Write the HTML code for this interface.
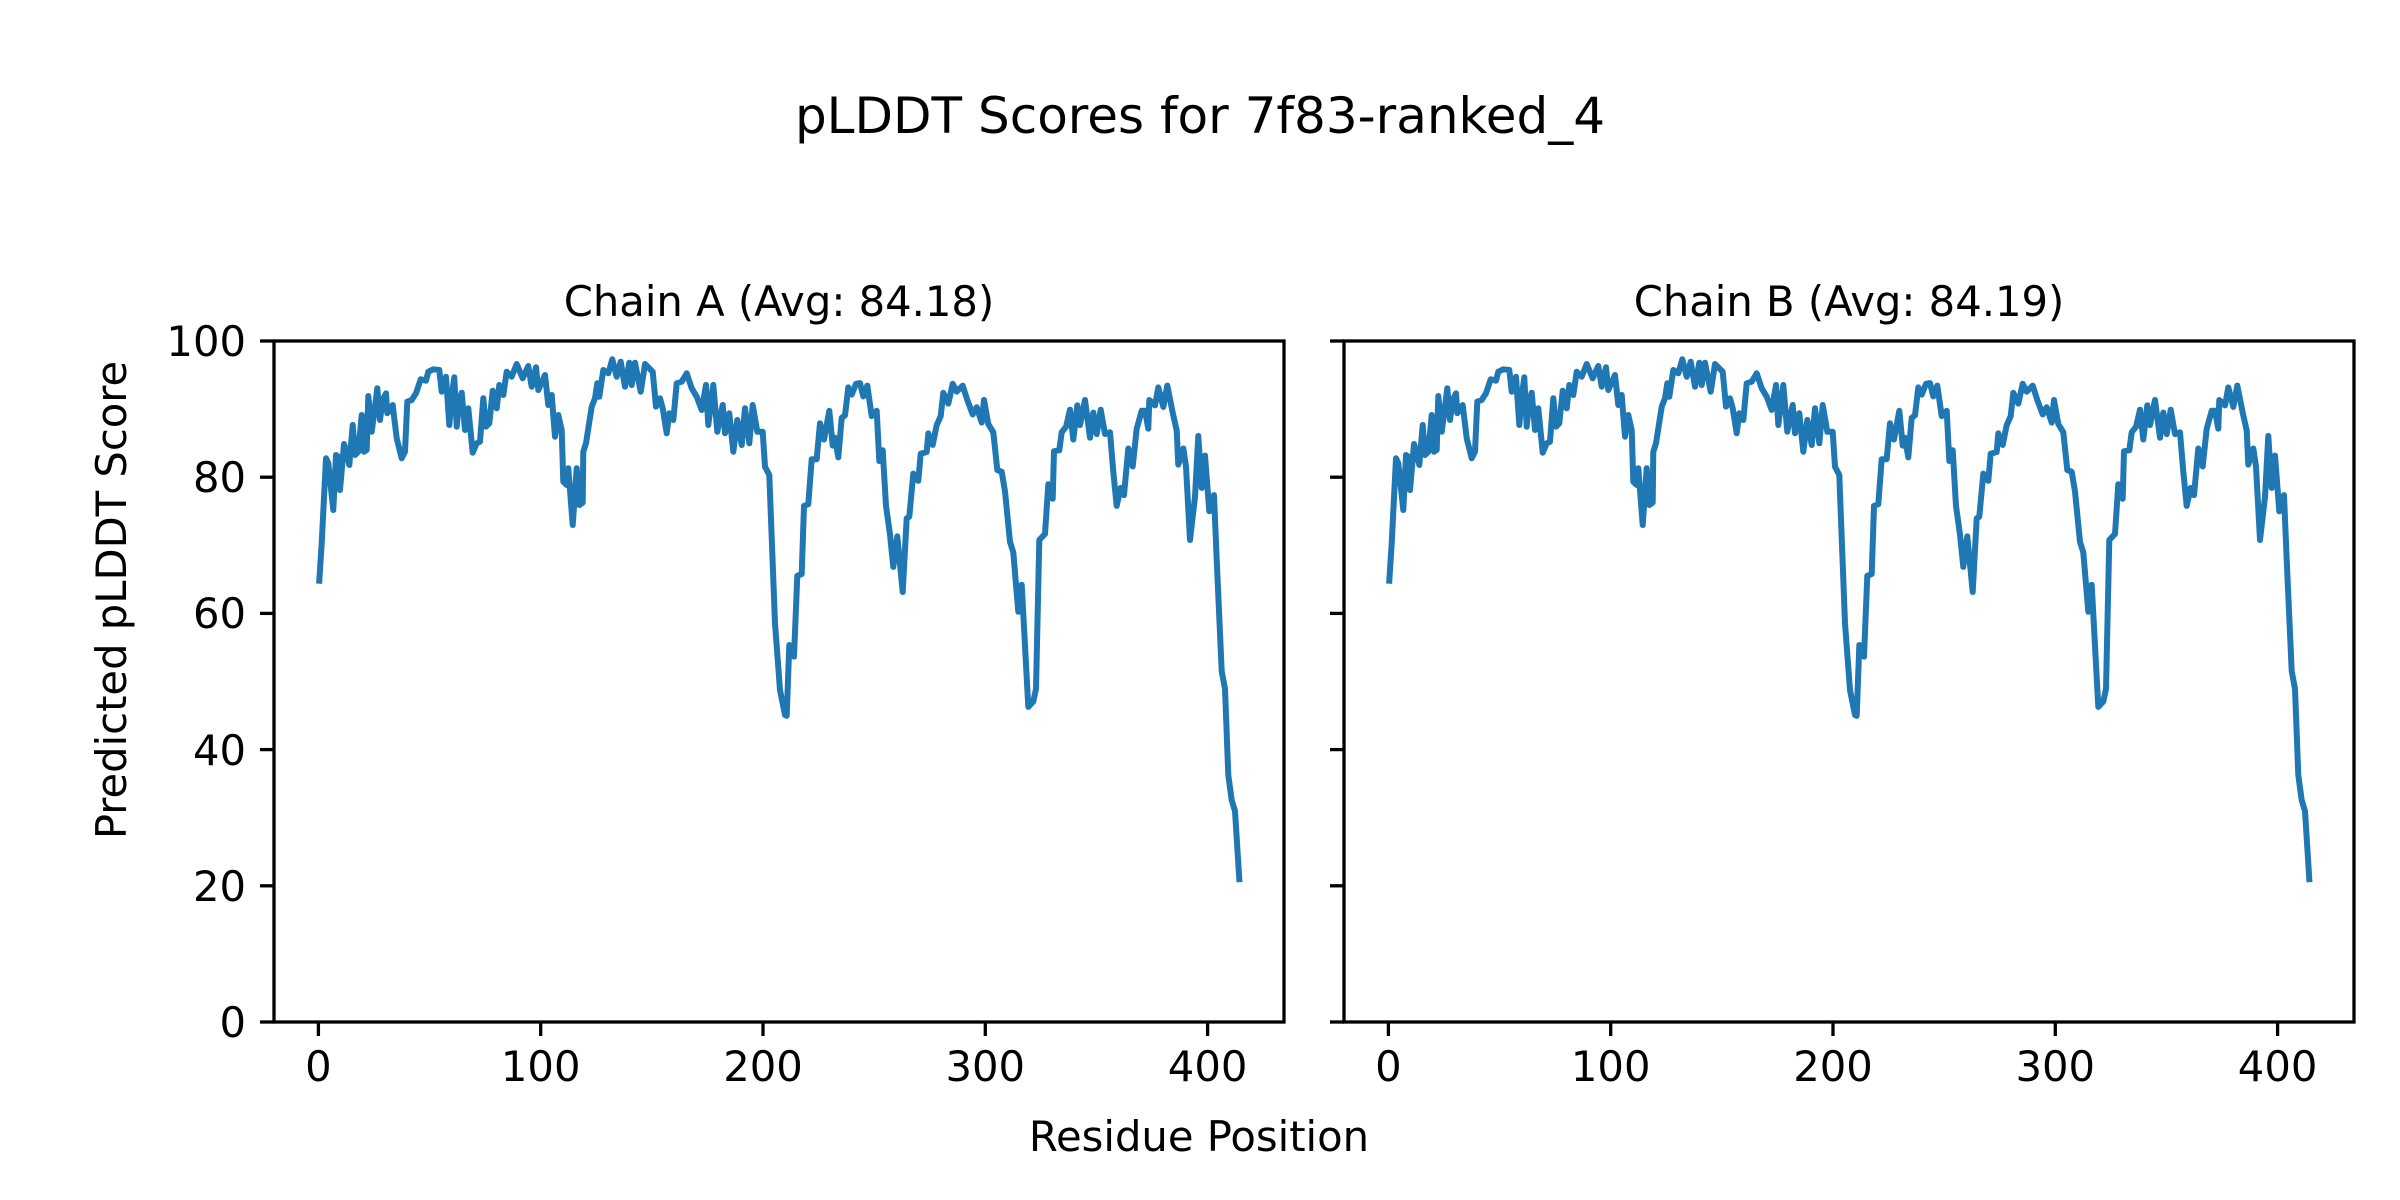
<!DOCTYPE html>
<html><head><style>body{margin:0;background:#fff}svg{display:block}</style></head><body>
<svg width="2400" height="1200" xmlns="http://www.w3.org/2000/svg" font-family="DejaVu Sans, Liberation Sans, sans-serif">
<rect width="2400" height="1200" fill="#fff"/>
<text x="1200" y="133" font-size="50" text-anchor="middle">pLDDT Scores for 7f83-ranked_4</text>
<text x="779" y="316" font-size="41.7" text-anchor="middle">Chain A (Avg: 84.18)</text>
<text x="1849" y="316" font-size="41.7" text-anchor="middle">Chain B (Avg: 84.19)</text>
<text x="1199" y="1151" font-size="41.7" text-anchor="middle">Residue Position</text>
<text transform="translate(126,600) rotate(-90)" font-size="41.7" text-anchor="middle">Predicted pLDDT Score</text>
<defs>
<polyline id="ln" fill="none" stroke="#1f77b4" stroke-width="6" stroke-linejoin="round" stroke-linecap="square" points="319.3,580.7 321.7,543.3 326,458.3 328.3,463.3 333.3,510 336,455 338.3,456.7 340,490 344,444 346.7,453.3 349.3,465 352.7,425 355,455 358.3,451.7 361.7,415 364,451.7 366.7,450 368.3,396 371.7,431.7 375,406.7 377.3,388.3 380,420 382.7,400 386,393.3 387.3,413.3 392.7,405 396.7,438.3 401.7,458.3 405,451.7 407.3,401.7 411.7,400 416,393.3 420.7,379.3 426,380.7 428.3,371.7 433.3,369.3 439.3,370 441.7,391.7 446,376.7 449.3,425 451.7,396.7 454.3,377.3 456.7,426.7 459.3,400 461.7,392.7 465,430 468.3,408.3 472.7,452.7 476.7,443.3 480,441.7 483.3,398.3 486,426.7 489.3,423.3 492.7,390.7 496.7,408.3 499.3,385 503.3,395 506.7,371.7 511.7,376.7 516.7,364 522.7,378.3 528.3,366 531.7,386.7 536,367.3 538.3,390 545,375 548.3,405 551.7,395 555,436.7 558.3,415 561.7,430 563.3,481.7 566.7,485 568.3,468.3 572.7,525 576.7,468.3 579.3,505 582.7,502.7 583.3,451.7 586,443.3 591.7,406.7 595,398.3 597.3,383.3 599.3,396.7 603.3,370 608.3,373.3 612.3,359.3 616.7,376.7 620.7,361.7 625,386.7 629.3,362.7 631.7,385 635,362.7 640.7,391.7 645,364 652.7,371.7 656,406.7 660,398.3 662.7,408.3 666.7,433.3 669.3,413.3 673.3,420 676.7,383.3 681.7,381.7 686.7,373.3 691.7,388.3 696.7,396.7 701.7,410 706,385 708.3,425 713.3,385 717.3,431.7 722.7,405 725,433.3 729.3,413.3 733.3,451.7 737.3,420 741.7,445 745,408.3 749.3,443.3 752.7,405 757.3,431.7 762.7,431.7 765,466.7 769.3,475 775,623.3 780,690 785,715 786.7,715.9 789.3,645 791.7,645.9 794,656.6 797.3,575.9 801.7,574 804,505.9 808.3,504.1 811.7,459.2 816.7,459.2 820,423.3 824,439.5 829.3,410.8 832.7,445.6 835,437.7 838.3,457.4 841.7,417.9 845,415.4 848.3,387.4 851.7,394.6 856,383.8 860,383.1 863.3,396.4 867.3,385.6 871.7,416.1 876.7,410.8 879.3,461 882.7,450.2 886,505.9 890,534.6 893.3,566.9 897.3,536.4 902.7,592 906.7,518.4 909.3,516.6 913.3,473.6 918.3,480.8 920.7,453.8 926.7,452 928.3,433.4 932.7,444.9 936.7,425.1 940.7,416.1 943.3,392.8 948.3,403.6 952.7,383.8 956.7,391.7 962.7,385.6 967.3,400 972.7,414.4 976.7,407.2 981.7,422.6 984,400 988.3,424 993.3,432.3 997.3,470 1001.7,471.8 1005,491.5 1010,541.8 1013.3,552.5 1018.3,611.8 1021.7,584.8 1028.3,706.9 1033.3,701.5 1036,688.9 1039.3,540 1045,533.9 1048.3,484.3 1052.7,498.7 1054,451.3 1059.3,450.2 1061.7,432.3 1066,426.9 1070,409.7 1073.3,439.5 1077.3,405.4 1080,425.1 1085,400 1090,437.7 1093.3,412.6 1096.7,434.1 1100.7,409.7 1105,434.1 1110,432.3 1113.3,471.8 1116.7,505.9 1120.7,487.9 1124,495.1 1128.3,448.5 1132.7,466.4 1136.7,428.7 1141.7,410.8 1145,410.8 1148.3,428.7 1149.3,400 1155,405.4 1158.3,387.4 1163.3,406.9 1167.3,385.6 1172.7,412.6 1176.7,430.5 1178.3,464.6 1183.3,448.5 1186,466.4 1190,540 1195,496.9 1198.3,435.9 1201.7,487.9 1205,455.6 1209.3,511.3 1214,495.1 1216.7,559.7 1221.7,671 1225,688.9 1228.3,775.1 1231.7,800.2 1235,811 1239.3,879.2"/>
<g id="xt" stroke="#000" stroke-width="3.3">
<line x1="318.4" y1="1022" x2="318.4" y2="1036"/><line x1="540.7" y1="1022" x2="540.7" y2="1036"/><line x1="763" y1="1022" x2="763" y2="1036"/><line x1="985.3" y1="1022" x2="985.3" y2="1036"/><line x1="1207.6" y1="1022" x2="1207.6" y2="1036"/>
<line x1="274" y1="1022" x2="260" y2="1022"/><line x1="274" y1="885.8" x2="260" y2="885.8"/><line x1="274" y1="749.6" x2="260" y2="749.6"/><line x1="274" y1="613.4" x2="260" y2="613.4"/><line x1="274" y1="477.2" x2="260" y2="477.2"/><line x1="274" y1="341" x2="260" y2="341"/>
</g>
<g id="xl" font-size="41.7" text-anchor="middle">
<text x="318.4" y="1081">0</text><text x="540.7" y="1081">100</text><text x="763" y="1081">200</text><text x="985.3" y="1081">300</text><text x="1207.6" y="1081">400</text>
</g>
</defs>
<use href="#ln"/><use href="#ln" transform="translate(1070,0)"/>
<use href="#xt"/><use href="#xt" transform="translate(1070,0)"/>
<use href="#xl"/><use href="#xl" transform="translate(1070,0)"/>
<g font-size="41.7" text-anchor="end">
<text x="246" y="1037">0</text><text x="246" y="901">20</text><text x="246" y="765">40</text><text x="246" y="628">60</text><text x="246" y="492">80</text><text x="246" y="356">100</text>
</g>
<rect x="274" y="341" width="1010" height="681" fill="none" stroke="#000" stroke-width="3.3"/>
<rect x="1344" y="341" width="1010" height="681" fill="none" stroke="#000" stroke-width="3.3"/>
</svg>
</body></html>
